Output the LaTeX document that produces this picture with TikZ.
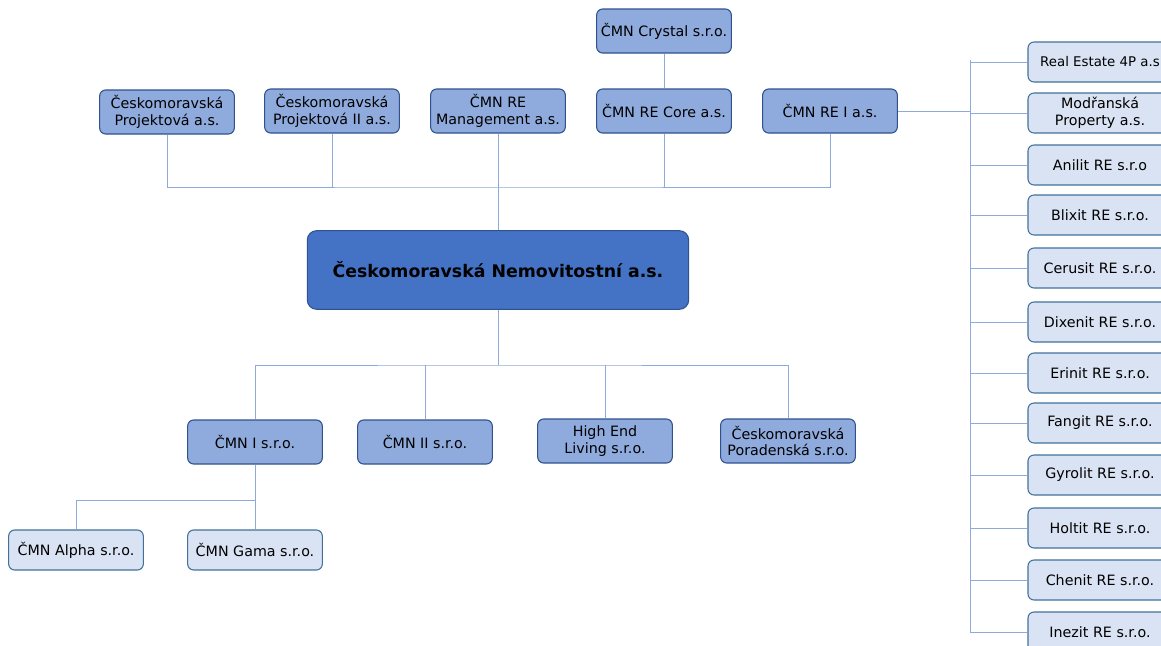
\documentclass[tikz,border=0pt]{standalone}
\usepackage{fontspec}
\setmainfont{DejaVu Sans}
\begin{document}
\begin{tikzpicture}[x=0.75pt,y=-0.75pt,
  base/.style={rounded corners=4.5pt, draw=boxedge, line width=0.8pt, align=center,
    inner sep=0pt, font=\fontsize{10.7}{12.4}\selectfont, text=black},
  midbox/.style={base, fill=midblue, minimum width=101pt, minimum height=33pt},
  lightbox/.style={base, fill=lightblue, draw=lightedge, minimum width=101pt, minimum height=30pt},
  rightbox/.style={base, fill=lightblue, draw=lightedge, minimum width=108pt, minimum height=30pt},
  mainbox/.style={base, fill=mainblue, minimum width=286pt, minimum height=59pt,
    font=\fontsize{13}{15}\selectfont\bfseries, rounded corners=7pt},
  conn/.style={draw=connblue, line width=0.7pt}]
\definecolor{midblue}{HTML}{8FAADC}
\definecolor{mainblue}{HTML}{4472C4}
\definecolor{lightblue}{HTML}{DAE3F3}
\definecolor{boxedge}{HTML}{2F528F}
\definecolor{lightedge}{HTML}{41719C}
\definecolor{connblue}{HTML}{8EA9DB}
\path[use as bounding box] (0,0) rectangle (1161,646);
\clip (0,0) rectangle (1161,646);
\fill[white] (0,0) rectangle (1161,646);

% top row
\node[midbox] (p1) at (167,112) {Českomoravská\\Projektová a.s.};
\node[midbox] (p2) at (332,111) {Českomoravská\\Projektová II a.s.};
\node[midbox] (mgmt) at (498,111) {ČMN RE\\Management a.s.};
\node[midbox] (crys) at (664,31) {ČMN Crystal s.r.o.};
\node[midbox] (core) at (664,111) {ČMN RE Core a.s.};
\node[midbox] (rei) at (830,111) {ČMN RE I a.s.};

% main
\node[mainbox] (main) at (498,270) {Českomoravská Nemovitostní a.s.};

% second row
\node[midbox] (c1) at (255,442) {ČMN I s.r.o.};
\node[midbox] (c2) at (425,442) {ČMN II s.r.o.};
\node[midbox] (c3) at (605,441) {High End\\Living s.r.o.};
\node[midbox] (c4) at (788,441) {Českomoravská\\Poradenská s.r.o.};

% third row
\node[lightbox] (alpha) at (76,550) {ČMN Alpha s.r.o.};
\node[lightbox] (gama) at (255,550) {ČMN Gama s.r.o.};

% right column
\node[rightbox, font=\fontsize{10}{12}\selectfont] (r1) at (1100,62) {Real Estate 4P a.s};
\node[rightbox] (r2) at (1100,113) {Modřanská\\Property a.s.};
\node[rightbox] (r3) at (1100,165) {Anilit RE s.r.o};
\node[rightbox] (r4) at (1100,215) {Blixit RE s.r.o.};
\node[rightbox] (r5) at (1100,268) {Cerusit RE s.r.o.};
\node[rightbox] (r6) at (1100,322) {Dixenit RE s.r.o.};
\node[rightbox] (r7) at (1100,373) {Erinit RE s.r.o.};
\node[rightbox] (r8) at (1100,423) {Fangit RE s.r.o.};
\node[rightbox] (r9) at (1100,475) {Gyrolit RE s.r.o.};
\node[rightbox] (r10) at (1100,528) {Holtit RE s.r.o.};
\node[rightbox] (r11) at (1100,580) {Chenit RE s.r.o.};
\node[rightbox] (r12) at (1100,632) {Inezit RE s.r.o.};

% coordinates
\coordinate (bar1) at (498,187);
\coordinate (bar2) at (498,365);
\coordinate (bar3) at (255,500);
\coordinate (rtop) at (970,60);
\coordinate (rbot) at (970,632);

% connectors top
\draw[conn] (p1.south) |- (bar1) -| (rei.south);
\draw[conn] (p2.south) -- (p2.south |- bar1);
\draw[conn] (core.south) -- (core.south |- bar1);
\draw[conn] (mgmt.south) -- (main.north);
\draw[conn] (crys.south) -- (core.north);

% connectors down
\draw[conn] (main.south) -- (bar2);
\draw[conn] (c1.north) |- (bar2) -| (c4.north);
\draw[conn] (c2.north) -- (c2.north |- bar2);
\draw[conn] (c3.north) -- (c3.north |- bar2);
\draw[conn] (c1.south) -- (gama.north);
\draw[conn] (alpha.north) |- (bar3);

% right trunk
\draw[conn] (rei.east) -- (rei.east -| rtop);
\draw[conn] (rtop) -- (rbot);
\foreach \r in {r1,r2,r3,r4,r5,r6,r7,r8,r9,r10,r11,r12}
  \draw[conn] (\r.west) -- (\r.west -| rtop);
\end{tikzpicture}
\end{document}
